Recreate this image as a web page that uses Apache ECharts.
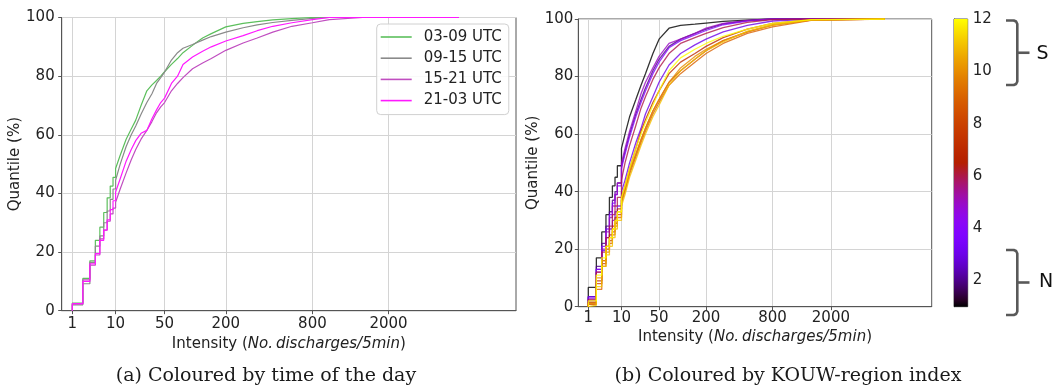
<!DOCTYPE html>
<html><head><meta charset="utf-8">
<script src="https://cdn.jsdelivr.net/npm/echarts@6/dist/echarts.min.js"></script>
<style>html,body{margin:0;padding:0;background:#fff}#c{width:1054px;height:387px}</style>
</head><body><div id="c"></div><script>
// ---------- data ----------
const xTickLabels = [1, 10, 50, 200, 800, 2000];
const yTicks = [0, 20, 40, 60, 80, 100];
const cbTicks = [2, 4, 6, 8, 10, 12];
const cbRange = [1, 12];

// panel (a): intensity grid and quantiles (%)
const xsA = [1,2,3,4,5,6,7,8,9,10,12,15,18,21,25,30,35,40,45,50,60,70,80,100,125,150,200,275,350,450,600,800,1000,1500,2500,4000];
const namesA = ['03-09 UTC', '09-15 UTC', '15-21 UTC', '21-03 UTC'];
const q0309 = [2.6,11,17,24,28.5,33.5,38.5,42.5,45.5,48.5,53,58.5,62,65,70,75,77,78.5,80,81.5,84,86,88,90.5,93,94.5,96.8,98,98.6,99.2,99.6,100,100,100,100,100];
const q0915 = [2,9.2,16.5,22,25.5,30,34,38,41.5,44.5,50,56,60,63,67,71,74,77.5,79.5,81.4,85.5,88,89.5,90.8,92.3,93.5,95,96.5,97.5,98.3,99,99.7,100,100,100,100];
const q1521 = [2.3,10.5,15.5,19,24.5,27.5,30.5,33,35,37,41.5,47,51.5,55,58.5,61.5,64.5,67.5,69.5,71,75,77.5,79.5,82.5,84.5,86,88.8,91.3,93,95,97,98.2,99.3,100,100,100];
const q2103 = [2.4,10,16,19.5,24,27.5,31,34.5,37.5,40.5,45,51,55,58,60.5,61.5,65.5,68.5,71,72.5,77.5,80,84,86.5,88.5,90,92,93.8,95.5,97,98.2,99.3,100,100,100,100];

// panel (b): KOUW-region index 1..12
const xsB = [1,2,3,4,5,6,7,8,10,12,15,20,25,30,40,50,70,100,150,200,300,500,800,1500,4000];
const regionIdx = [1,2,3,4,5,6,7,8,9,10,11,12];
const qR1  = [6.7,17,26,32,38,42,45,49,55,60,66,72,77,81,88,93,96.8,97.8,98.2,98.6,99.2,99.6,100,100,100];
const qR2  = [3.5,14,22,28,33,37,40,43,49,54,60,67,72,76,82,86,90.5,93,95,96.5,98.3,99.4,100,100,100];
const qR3  = [3.5,13,19.5,24,27,30,33,35,40,44,50,57,62,67,73,78,84,88,91,93,95.5,97.8,99.3,100,100];
const qR4  = [3,13,21,27,32,36,39,42,48,53,59,66,71,75,81,85,90,92.5,94.5,96,98,99.3,100,100,100];
const qR5  = [2,12,20,26,31,35,39,43,50,55,61,68,74,78,83,87,91.5,93,95,96.8,98.5,99.5,100,100,100];
const qR6  = [2.5,12,19,24,28,32,35,38,44,50,56,63,69,73,79,83,88,91.5,93.5,95,97,98.8,99.8,100,100];
const qR7  = [1.5,9,16,21,25,28,31,34,38,42,48,55,61,65,71,75,81,85,88,90.5,93.5,96.5,98.5,99.8,100];
const qR8  = [1,8,15,20,23,26,29,32,37,41,47,53,58,62,68,72,78,82,86,89,92.5,95.5,98,99.6,100];
const qR9  = [0.8,6,14,19,22,25,28,31,36,40,46,52,57,61,67,71,77,81,85,88,91.5,95,97.3,99.5,100];
const qR10 = [1.2,10,16,21,24,27,30,33,37,41,47,53,58,62,68,72,78,83,87,89.5,92.5,95.5,97.8,99.6,100];
const qR11 = [0.5,7,14,18,21,24,27,30,35,39,45,51,56,60,66,70,77,82,86,89,92,95.8,98,99.7,100];
const qR12 = [2,11,17,21,24,27,30,33,38,42,48,55,60,64,70,75,82,86.5,89.5,91.5,94,96.5,98.5,99.8,100];

// ---------- helpers ----------
const T = v => Math.pow(v, 0.25);           // fourth-root intensity scale
const invT = t => Math.round(Math.pow(t, 4));
function cdf(xs, qs) {
  const pts = [[T(xs[0]), 0]];
  for (let i = 0; i < xs.length; i++) {
    if (i > 0 && xs[i] <= 10) pts.push([T(xs[i]), qs[i - 1]]);
    pts.push([T(xs[i]), qs[i]]);
  }
  return pts;
}
function gnuplot(v) { // matplotlib 'gnuplot' colormap on [1,12]
  const x = Math.min(1, Math.max(0, (v - cbRange[0]) / (cbRange[1] - cbRange[0])));
  const r = Math.sqrt(x), g = x * x * x, b = Math.max(0, Math.sin(2 * Math.PI * x));
  const c = u => Math.round(Math.min(1, u) * 255);
  return 'rgb(' + c(r) + ',' + c(g) + ',' + c(b) + ')';
}
const colorsA = ['#5cbf5c', '#8a8a8a', '#c04ec0', '#ff19ff'];
const FONT = 'DejaVu Sans';
const tickVals = xTickLabels.map(T);

function xAxis(gi, min, max, fs, margin, gap) {
  return {
    type: 'value', gridIndex: gi, min: min, max: max,
    axisLine: {show: true, onZero: false, lineStyle: {color: '#555', width: 1}},
    axisTick: {show: true, length: 3.5, customValues: tickVals, lineStyle: {color: '#555'}},
    axisLabel: {customValues: tickVals, formatter: v => String(invT(v)), color: '#222', fontSize: fs, fontFamily: FONT, margin: margin},
    splitLine: {show: true, lineStyle: {color: '#d4d4d4', width: 1}},
    name: 'Intensity ({i|No.\u2009discharges/5min})', nameLocation: 'middle', nameGap: gap,
    nameTextStyle: {color: '#222', fontSize: fs, fontFamily: FONT, rich: {i: {fontStyle: 'italic', fontSize: fs, fontFamily: FONT, color: '#222'}}}
  };
}
function yAxis(gi, fs, margin, gap) {
  return {
    type: 'value', gridIndex: gi, min: 0, max: 100, interval: 20,
    axisLine: {show: true, lineStyle: {color: '#555'}},
    axisTick: {show: true, length: 3.5, lineStyle: {color: '#555'}},
    axisLabel: {color: '#222', fontSize: fs, fontFamily: FONT, margin: margin},
    splitLine: {show: true, lineStyle: {color: '#d4d4d4', width: 1}},
    name: 'Quantile (%)', nameLocation: 'middle', nameGap: gap, nameRotate: 90,
    nameTextStyle: {color: '#222', fontSize: fs, fontFamily: FONT}
  };
}

const series = [];
[q0309, q0915, q1521, q2103].forEach((q, i) => {
  series.push({type: 'line', name: namesA[i], xAxisIndex: 0, yAxisIndex: 0, data: cdf(xsA, q),
    symbol: 'none', showSymbol: false, lineStyle: {width: 1.2, color: colorsA[i]}, itemStyle: {color: colorsA[i]}, animation: false});
});
[qR1,qR2,qR3,qR4,qR5,qR6,qR7,qR8,qR9,qR10,qR11,qR12].forEach((q, i) => {
  const col = gnuplot(regionIdx[i]);
  series.push({type: 'line', name: 'region ' + regionIdx[i], xAxisIndex: 1, yAxisIndex: 1, data: cdf(xsB, q),
    symbol: 'none', showSymbol: false, lineStyle: {width: 1.3, color: col, opacity: 0.8}, itemStyle: {color: col}, animation: false});
});
// colorbar
const stops = [];
for (let k = 0; k <= 44; k++) { const v = cbRange[0] + (cbRange[1] - cbRange[0]) * k / 44; stops.push({offset: k / 44, color: gnuplot(v)}); }
series.push({type: 'custom', xAxisIndex: 2, yAxisIndex: 2, data: [[0, cbRange[0], 1, cbRange[1]]], animation: false, silent: true,
  renderItem: (params, api) => {
    const p0 = api.coord([api.value(0), api.value(3)]);
    const p1 = api.coord([api.value(2), api.value(1)]);
    return {type: 'rect', shape: {x: p0[0], y: p0[1], width: p1[0] - p0[0], height: p1[1] - p0[1]},
      style: {fill: {type: 'linear', x: 0, y: 1, x2: 0, y2: 0, colorStops: stops}}};
  }});

function brace(y0, y1) {
  const xm = 1017.3, xl = 1006, xt = 1029.5, ym = (y0 + y1) / 2;
  const pts = [[xl, y0], [xm - 3.5, y0], [xm - 1.2, y0 + 1], [xm, y0 + 3.5], [xm, y1 - 3.5], [xm - 1.2, y1 - 1], [xm - 3.5, y1], [xl, y1]];
  return [
    {type: 'polyline', shape: {points: pts}, style: {stroke: '#595959', lineWidth: 2.6, fill: null, lineJoin: 'round'}},
    {type: 'line', shape: {x1: xm, y1: ym, x2: xt, y2: ym}, style: {stroke: '#595959', lineWidth: 2.6}}
  ];
}

const chart = echarts.init(document.getElementById('c'), null, {renderer: 'canvas'});
chart.setOption({
  animation: false,
  backgroundColor: '#fff',
  grid: [
    {left: 61.7, top: 17.5, width: 454.3, height: 293.2, show: true, borderColor: '#555', borderWidth: 1, backgroundColor: 'transparent'},
    {left: 578.3, top: 19, width: 353.4, height: 287.7, show: true, borderColor: '#555', borderWidth: 1, backgroundColor: 'transparent'},
    {left: 954, top: 19, width: 13.7, height: 287.7, show: true, borderColor: '#555', borderWidth: 1, backgroundColor: 'transparent'}
  ],
  xAxis: [
    xAxis(0, 0.809, 8.98, 15, 6, 13.5),
    xAxis(1, 0.766, 9.05, 15, 3.5, 16),
    {type: 'value', gridIndex: 2, min: 0, max: 1, show: false}
  ],
  yAxis: [
    yAxis(0, 15, 7, 31),
    yAxis(1, 15, 5, 31),
    {type: 'value', gridIndex: 2, min: cbRange[0], max: cbRange[1], position: 'right',
      axisLine: {show: true, lineStyle: {color: '#555'}},
      axisTick: {show: true, length: 3.5, customValues: cbTicks, lineStyle: {color: '#555'}},
      axisLabel: {customValues: cbTicks, color: '#222', fontSize: 15, fontFamily: FONT, margin: 5},
      splitLine: {show: false}}
  ],
  legend: {
    show: true, orient: 'vertical', left: 376.7, top: 24, data: namesA,
    icon: 'rect', itemWidth: 31, itemHeight: 1.6, itemGap: 3.2,
    padding: [4, 7, 5, 4], backgroundColor: 'rgba(255,255,255,0.85)', borderColor: '#d0d0d0', borderWidth: 1, borderRadius: 4,
    textStyle: {color: '#222', fontSize: 15, fontFamily: FONT, lineHeight: 18, padding: [0, 0, 0, 7]}
  },
  series: series,
  graphic: [].concat(brace(20.5, 85), brace(250, 315), [
    {type: 'text', style: {text: 'S', x: 1042.5, y: 54, fontSize: 19, fontFamily: FONT, fill: '#111', align: 'center', verticalAlign: 'middle'}},
    {type: 'text', style: {text: 'N', x: 1046, y: 282, fontSize: 19, fontFamily: FONT, fill: '#111', align: 'center', verticalAlign: 'middle'}},
    {type: 'text', style: {text: '(a) Coloured by time of the day', x: 266, y: 376, fontSize: 19, fontFamily: 'DejaVu Serif', fill: '#1a1a1a', align: 'center', verticalAlign: 'middle'}},
    {type: 'text', style: {text: '(b) Coloured by KOUW-region index', x: 788, y: 376, fontSize: 19, fontFamily: 'DejaVu Serif', fill: '#1a1a1a', align: 'center', verticalAlign: 'middle'}}
  ])
});
</script></body></html>
